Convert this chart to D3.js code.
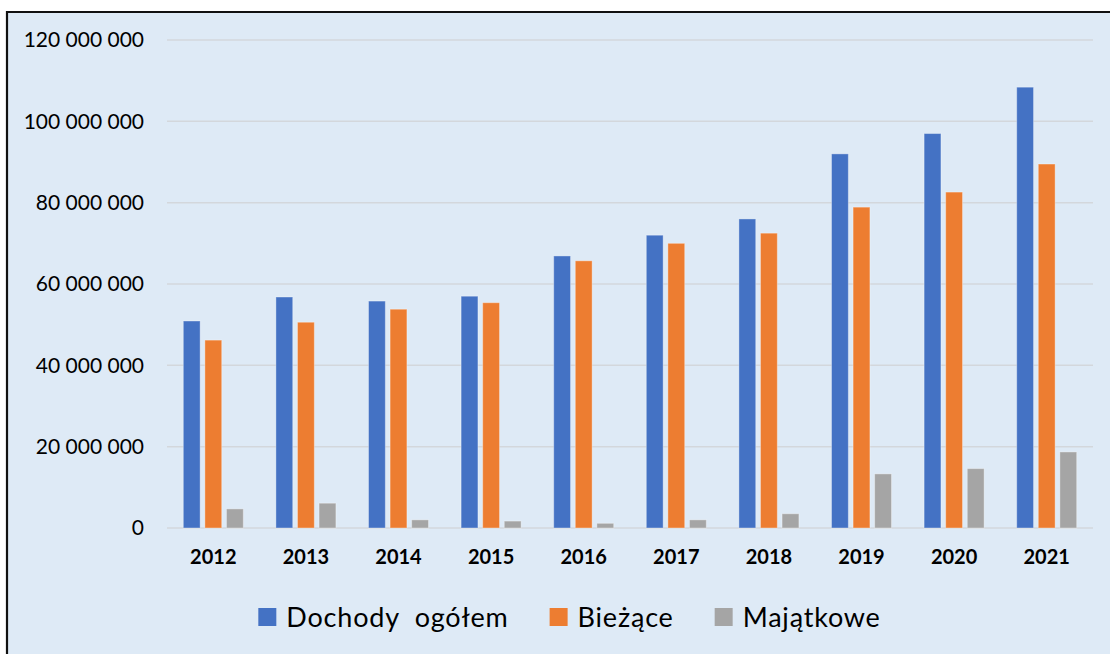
<!DOCTYPE html>
<html>
<head>
<meta charset="utf-8">
<script src="https://cdn.jsdelivr.net/npm/d3@7"></script>
<style>
  html, body { margin: 0; padding: 0; background: #fff; }
  svg { display: block; font-family: Lato, "Noto Sans", sans-serif; }
</style>
</head>
<body>
<svg id="chart" width="1110" height="654"></svg>
<script>
var years = ["2012", "2013", "2014", "2015", "2016", "2017", "2018", "2019", "2020", "2021"];
var seriesNames = ["Dochody  ogółem", "Bieżące", "Majątkowe"];
var dochody = [50.9e6, 56.8e6, 55.8e6, 57.0e6, 66.9e6, 72.0e6, 76.0e6, 92.0e6, 97.0e6, 108.4e6];
var biezace = [46.2e6, 50.6e6, 53.8e6, 55.4e6, 65.7e6, 70.0e6, 72.5e6, 78.9e6, 82.6e6, 89.5e6];
var majatkowe = [4.7e6, 6.1e6, 2.0e6, 1.7e6, 1.15e6, 2.0e6, 3.5e6, 13.3e6, 14.6e6, 18.7e6];
var yTicks = [0, 20e6, 40e6, 60e6, 80e6, 100e6, 120e6];
var colors = ["#4472C4", "#ED7D31", "#A5A5A5"];

var allSeries = [dochody, biezace, majatkowe];

var svg = d3.select("#chart");

// chart area background + frame (left and top edges visible)
svg.append("rect")
    .attr("x", 7).attr("y", 12)
    .attr("width", 1110).attr("height", 654)
    .attr("fill", "#DEEAF6");
svg.append("path")
    .attr("d", "M7,660 V12 H1110")
    .attr("fill", "none")
    .attr("stroke", "#111")
    .attr("stroke-width", 2.2);

var x = d3.scaleBand()
    .domain(years)
    .range([167, 1093]);

var inner = d3.scaleBand()
    .domain([0, 1, 2])
    .range([0, 60])
    .paddingInner(0.22);

var y = d3.scaleLinear()
    .domain([0, 120e6])
    .range([528, 40]);

// grid lines
svg.append("g")
  .selectAll("line")
  .data(yTicks)
  .enter().append("line")
    .attr("x1", 167).attr("x2", 1093)
    .attr("y1", function(d) { return y(d); })
    .attr("y2", function(d) { return y(d); })
    .attr("stroke", "#D3D7DC")
    .attr("stroke-width", 1.5);

// y axis labels
var fmt = function(d) { return d3.format(",")(d).replace(/,/g, " "); };
var yAxis = svg.append("g")
    .attr("transform", "translate(144,0)")
    .call(d3.axisLeft(y).tickValues(yTicks).tickSize(0).tickPadding(0).tickFormat(fmt));
yAxis.select(".domain").remove();
yAxis.selectAll("text")
    .attr("font-family", "Lato, sans-serif")
    .attr("font-size", 21)
    .attr("fill", "#000");

// bars
var groups = svg.append("g")
  .selectAll("g")
  .data(years)
  .enter().append("g")
    .attr("transform", function(d) { return "translate(" + (x(d) + (x.bandwidth() - 60) / 2) + ",0)"; });

groups.selectAll("rect")
  .data(function(d, i) { return allSeries.map(function(s, k) { return {k: k, v: s[i]}; }); })
  .enter().append("rect")
    .attr("x", function(d) { return inner(d.k); })
    .attr("width", inner.bandwidth())
    .attr("y", function(d) { return y(d.v); })
    .attr("height", function(d) { return y(0) - y(d.v); })
    .attr("fill", function(d) { return colors[d.k]; })
    .attr("stroke", "rgba(255,255,255,0.35)")
    .attr("stroke-width", 1);

// x axis labels
var xAxis = svg.append("g")
    .attr("transform", "translate(0,528)")
    .call(d3.axisBottom(x).tickSize(0).tickPadding(22));
xAxis.select(".domain").remove();
xAxis.selectAll("text")
    .attr("font-family", "Lato, sans-serif")
    .attr("font-size", 20)
    .attr("font-weight", "bold")
    .attr("fill", "#000");

// legend
var legend = svg.append("g").attr("transform", "translate(0,627)");
var items = legend.selectAll("g")
  .data(seriesNames)
  .enter().append("g");
items.append("rect")
    .attr("y", -19).attr("width", 18).attr("height", 18)
    .attr("fill", function(d, i) { return colors[i]; });
items.append("text")
    .attr("x", 28)
    .attr("font-size", 27)
    .attr("letter-spacing", 0.8)
    .attr("fill", "#000")
    .style("white-space", "pre")
    .attr("xml:space", "preserve")
    .text(function(d) { return d; });

var widths = [];
items.each(function() { widths.push(28 + this.querySelector("text").getComputedTextLength()); });
var gap = 41;
var total = d3.sum(widths) + gap * (widths.length - 1);
var cx = 569.5, pos = cx - total / 2;
items.attr("transform", function(d, i) {
  var t = "translate(" + pos + ",0)";
  pos += widths[i] + gap;
  return t;
});
</script>
</body>
</html>
